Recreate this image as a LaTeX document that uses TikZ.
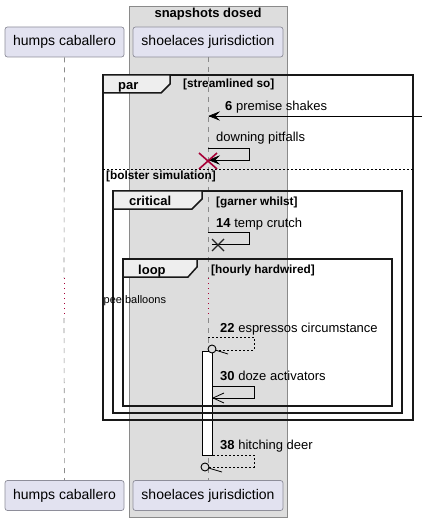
\documentclass[tikz,border=0pt]{standalone}
\usepackage{fontspec}
\setmainfont{Liberation Sans}
\usetikzlibrary{calc}
\definecolor{partfill}{HTML}{E2E2F0}
\definecolor{partdraw}{HTML}{8E8E9A}
\definecolor{grpfill}{HTML}{DDDDDD}
\definecolor{grpdraw}{HTML}{8A8A8A}
\definecolor{tabfill}{HTML}{EEEEEE}
\definecolor{xred}{HTML}{A80036}
\definecolor{lifegray}{HTML}{8A8A8A}
\definecolor{frm}{HTML}{181818}
\begin{document}
\begin{tikzpicture}[x=1pt,y=-1pt,
  part/.style={draw=partdraw, fill=partfill, rounded corners=2.5pt, line width=0.7pt,
    minimum height=30pt, inner sep=0pt, font=\fontsize{14}{16}\selectfont},
  grpbox/.style={draw=grpdraw, fill=grpfill, line width=0.7pt, inner sep=0pt},
  life/.style={draw=lifegray, line width=0.6pt, dash pattern=on 5pt off 5pt},
  delayline/.style={draw=xred, line width=0.8pt, dash pattern=on 1pt off 4pt},
  frame/.style={draw=frm, line width=1.5pt},
  tabshape/.style={draw=frm, fill=tabfill, line width=1.5pt, line join=miter},
  lbl/.style={anchor=base west, inner sep=0pt, font=\fontsize{13}{15}\selectfont},
  guard/.style={anchor=base west, inner sep=0pt, font=\fontsize{11.8}{14}\selectfont\bfseries},
  kw/.style={anchor=base west, inner sep=0pt, font=\fontsize{13}{15}\selectfont\bfseries},
  msg/.style={draw=black, line width=0.8pt},
  dmsg/.style={draw=black, line width=0.8pt, dash pattern=on 2pt off 2pt},
  fillhead/.style={fill=black, draw=black, line width=0.5pt, line join=miter},
  openhead/.style={draw=black, line width=0.8pt}
]
\useasboundingbox (0,0) rectangle (426,521);

% group box
\node[grpbox, minimum width=158pt, minimum height=511pt] (grp) at (208,261.5) {};
\node[anchor=base, inner sep=0pt, font=\fontsize{13}{15}\selectfont\bfseries] (grptitle) at (208,17.5) {snapshots dosed};

% participants
\node[part, minimum width=119pt] (hc) at (64.5,42) {humps caballero};
\node[part, minimum width=150pt] (sj) at (208,42) {shoelaces jurisdiction};
\node[part, minimum width=119pt] (hcb) at (64.5,495.5) {humps caballero};
\node[part, minimum width=150pt] (sjb) at (208,495.5) {shoelaces jurisdiction};

% lifelines
\coordinate (hcd1) at (64,278);
\coordinate (hcd2) at (64,318);
\coordinate (sjd1) at (208,278);
\coordinate (sjd2) at (208,318);
\draw[life] (hc.south) -- (hcd1);
\draw[delayline] (hcd1) -- (hcd2);
\draw[life] (hcd2) -- (hcb.north);
\draw[life] (sj.south) -- (sjd1);
\draw[delayline] (sjd1) -- (sjd2);
\draw[life] (sjd2) -- (sjb.north);

% activation bar
\node[draw=black, fill=white, line width=0.8pt, minimum width=10pt, minimum height=104pt, inner sep=0pt] (act) at (207.5,403) {};

% fragments
\draw[frame] (103,75) rectangle (413,420);
\draw[tabshape] (103,75) -- (170,75) -- (170,84) -- (161,93) -- (103,93) -- cycle;
\node[kw] (parkw) at (118,90) {par};
\node[guard] (parg) at (183,88) {[streamlined so]};
\coordinate (sepl) at (103,169);
\coordinate (sepr) at (413,169);
\draw[line width=0.6pt, dash pattern=on 2pt off 2pt] (sepl) -- (sepr);
\node[guard] (parg2) at (106,180) {[bolster simulation]};

\draw[frame] (113,191) rectangle (402,413);
\draw[tabshape] (113,191) -- (202,191) -- (202,199) -- (192,209) -- (113,209) -- cycle;
\node[kw] (critkw) at (129,205) {critical};
\node[guard] (critg) at (216,205) {[garner whilst]};

\draw[frame] (123,259) rectangle (392,406);
\draw[tabshape] (123,259) -- (197,259) -- (197,267) -- (188,277) -- (123,277) -- cycle;
\node[kw] (loopkw) at (138,274) {loop};
\node[guard] (loopg) at (211,273) {[hourly hardwired]};

% message 6
\coordinate (m6a) at (422,116);
\coordinate (m6b) at (209,116);
\draw[msg] (m6a) -- (m6b);
\draw[fillhead] (m6b) -- ++(10,-4) -- ++(-4,4) -- ++(4,4) -- cycle;
\node[lbl] (l6) at (225,111) {\textbf{6} premise shakes};

% downing pitfalls (self, destroy)
\node[lbl] (ldp) at (216,142) {downing pitfalls};
\coordinate (dp1) at (208,148);
\coordinate (dp2) at (249,148);
\coordinate (dp3) at (249,160);
\coordinate (dp4) at (209,160);
\draw[msg] (dp1) -- (dp2) -- (dp3) -- (dp4);
\draw[fillhead] (dp4) -- ++(10,-4) -- ++(-4,4) -- ++(4,4) -- cycle;
\coordinate (dx) at (208,161);
\draw[xred, line width=1.6pt] ($(dx)+(-9,-8)$) -- ($(dx)+(9,8)$) ($(dx)+(-9,8)$) -- ($(dx)+(9,-8)$);

% message 14 (lost x)
\node[lbl] (l14) at (216,227) {\textbf{14} temp crutch};
\coordinate (t1) at (208,232);
\coordinate (t2) at (249,232);
\coordinate (t3) at (249,244);
\coordinate (t4) at (212,244);
\draw[msg] (t1) -- (t2) -- (t3) -- (t4);
\coordinate (tx) at (218,245);
\draw[black!85, line width=1.4pt] ($(tx)+(-6,-6)$) -- ($(tx)+(6,6)$) ($(tx)+(-6,6)$) -- ($(tx)+(6,-6)$);

% delay text
\node[anchor=base west, inner sep=0pt, font=\fontsize{11}{13}\selectfont] (delay) at (103.5,303) {pee balloons};

% message 22
\node[lbl] (l22) at (220,332) {\textbf{22} espressos circumstance};
\coordinate (e1) at (208,337);
\coordinate (e2) at (254,337);
\coordinate (e3) at (254,350);
\coordinate (e4) at (216,350);
\draw[dmsg] (e1) -- (e2) -- (e3) -- (e4);
\node[circle, draw=black, line width=0.9pt, fill=grpfill, minimum size=8pt, inner sep=0pt] (c22) at (212,349) {};
\coordinate (e5) at (228,354);
\draw[msg] (c22) -- (e5);

% message 30
\node[lbl] (l30) at (220,380) {\textbf{30} doze activators};
\coordinate (d1) at (213,386);
\coordinate (d2) at (254,386);
\coordinate (d3) at (254,398);
\coordinate (d4) at (213,398);
\draw[msg] (d1) -- (d2) -- (d3) -- (d4);
\draw[openhead] ($(d4)+(11,-5)$) -- (d4) -- ($(d4)+(11,5)$);

% message 38
\node[lbl] (l38) at (220,449) {\textbf{38} hitching deer};
\coordinate (h1) at (213,455);
\coordinate (h2) at (254,455);
\coordinate (h3) at (254,467);
\coordinate (h4) at (209,467);
\draw[dmsg] (h1) -- (h2) -- (h3) -- (h4);
\node[circle, draw=black, line width=0.9pt, fill=grpfill, minimum size=8pt, inner sep=0pt] (c38) at (205,467) {};
\coordinate (h5) at (222,472);
\draw[msg] (c38) -- (h5);
\end{tikzpicture}
\end{document}
